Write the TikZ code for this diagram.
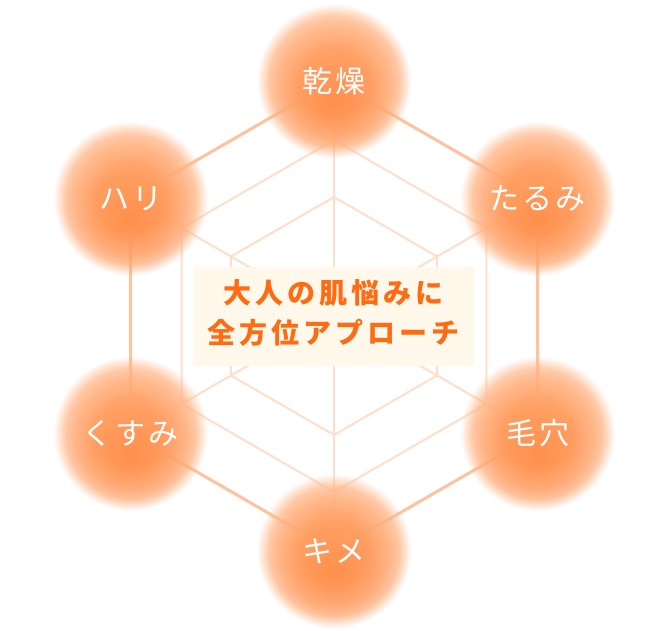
\documentclass[tikz,border=0pt]{standalone}
\usepackage{fontspec}
\usetikzlibrary{fadings}
\newfontfamily\jplbl{Noto Sans CJK JP}[LetterSpace=10]
\newfontfamily\jptitle{Noto Sans CJK JP}[LetterSpace=14]
\definecolor{odark}{HTML}{FF8F4C}
\definecolor{omid}{HTML}{FF9E62}
\definecolor{olight}{HTML}{FFB687}
\definecolor{outerline}{HTML}{FFC29C}
\definecolor{innerline}{HTML}{FFDFCA}
\definecolor{boxfill}{HTML}{FFF8EB}
\definecolor{titlecol}{HTML}{FF6B12}
\pgfdeclareradialshading{blobshade}{\pgfpoint{0bp}{-7bp}}{color(0bp)=(odark); color(13bp)=(omid); color(25bp)=(olight); color(50bp)=(olight)}
\pgfdeclareradialshading{blobfadeshade}{\pgfpointorigin}{color(0bp)=(white); color(11bp)=(white); color(18bp)=(black!15); color(21bp)=(black!30); color(23.5bp)=(black!72); color(25bp)=(black); color(50bp)=(black)}
\pgfdeclarefading{blobfade}{\pgfuseshading{blobfadeshade}}
\tikzset{
  outerhex/.style={draw=outerline, line width=3pt, line join=round},
  innerhex/.style={draw=innerline, line width=2pt, line join=round},
  blob/.style={shading=blobshade, path fading=blobfade},
  lbl/.style={text=white, font=\jplbl\fontsize{30}{36}\selectfont, inner sep=0pt},
  titlebox/.style={fill=boxfill, minimum width=281pt, minimum height=99pt, inner sep=0pt},
  titletext/.style={text=titlecol, font=\jptitle\bfseries\fontsize{28}{40}\selectfont, align=center, inner sep=0pt}
}
\begin{document}
\begin{tikzpicture}[x=1pt,y=1pt]
\useasboundingbox[fill=white] (0,0) rectangle (670,630);
\coordinate (c) at (334,314);
% vertex points
\coordinate (v1) at (334,549);
\coordinate (v2) at (537.5,431.5);
\coordinate (v3) at (537.5,196.5);
\coordinate (v4) at (334,79);
\coordinate (v5) at (130.5,196.5);
\coordinate (v6) at (130.5,431.5);
% inner hexagons
\draw[innerhex, shift={(c)}] (90:176) -- (30:176) -- (-30:176) -- (-90:176) -- (-150:176) -- (150:176) -- cycle;
\draw[innerhex, shift={(c)}] (90:119) -- (30:119) -- (-30:119) -- (-90:119) -- (-150:119) -- (150:119) -- cycle;
% spokes
\foreach \v in {v1,v2,v3,v4,v5,v6} \draw[innerhex] (c) -- (\v);
% outer hexagon
\draw[outerhex] (v1) -- (v2) -- (v3) -- (v4) -- (v5) -- (v6) -- cycle;
% blobs
\foreach \v in {v1,v2,v3,v4,v5,v6} \shade[blob] (\v) circle (77);
% labels
\node[lbl] (t1) at (v1) {乾燥};
\node[lbl] (t2) at (v2) {たるみ};
\node[lbl] (t3) at (v3) {毛穴};
\node[lbl] (t4) at (v4) {キメ};
\node[lbl] (t5) at (v5) {くすみ};
\node[lbl] (t6) at (v6) {ハリ};
% centre box
\node[titlebox] (box) at (333.5,313.5) {};
\node[titletext] (title) at ([yshift=4pt]box.center) {大人の肌悩みに\\全方位アプローチ};
\end{tikzpicture}
\end{document}
